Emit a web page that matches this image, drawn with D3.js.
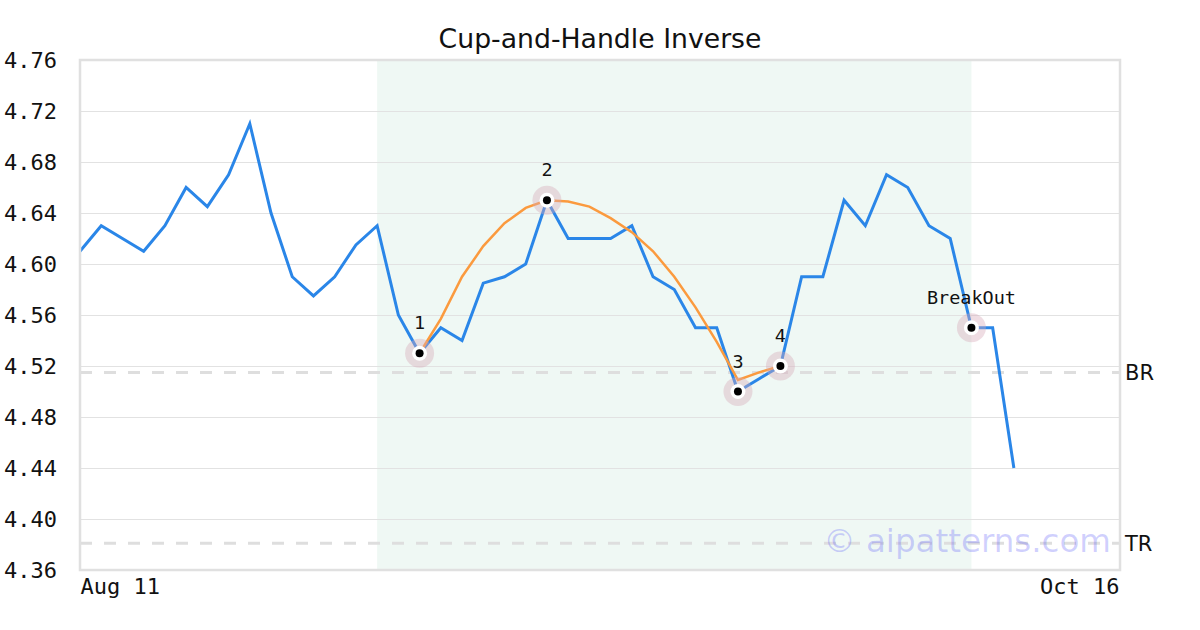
<!DOCTYPE html>
<html>
<head>
<meta charset="utf-8">
<script src="https://cdn.jsdelivr.net/npm/d3@7"></script>
<style>
  html, body { margin: 0; padding: 0; background: #fff; }
  svg { display: block; }
</style>
</head>
<body>
<svg id="chart" width="1200" height="630"></svg>
<script>
// ---- data ----
const title = "Cup-and-Handle Inverse";
const prices = [4.61, 4.63, 4.62, 4.61, 4.63, 4.66, 4.645, 4.67, 4.71, 4.64,
                4.59, 4.575, 4.59, 4.615, 4.63, 4.56, 4.53, 4.55, 4.54, 4.585,
                4.59, 4.60, 4.65, 4.62, 4.62, 4.62, 4.63, 4.59, 4.58, 4.55,
                4.55, 4.50, 4.51, 4.52, 4.59, 4.59, 4.65, 4.63, 4.67, 4.66,
                4.63, 4.62, 4.55, 4.55, 4.44];
const slotCount = 50;               // trading-day slots on the x axis
const cupStartIndex = 16;
const cupCurve = [4.530, 4.557, 4.590, 4.614, 4.632, 4.644, 4.650, 4.649, 4.645,
                  4.636, 4.625, 4.610, 4.590, 4.566, 4.539, 4.509, 4.515, 4.520];
const patternRange = [14, 42];
const markerIndex = [16, 22, 31, 33, 42];
const markerLabels = ["1", "2", "3", "4", "BreakOut"];
const levelValues = [4.515, 4.381];
const levelLabels = ["BR", "TR"];
const yTicks = [4.36, 4.40, 4.44, 4.48, 4.52, 4.56, 4.60, 4.64, 4.68, 4.72, 4.76];
const xTickIndex = [0, 49];
const xTickLabels = ["Aug 11", "Oct 16"];
const watermark = "© aipatterns.com";

// ---- layout ----
const svg = d3.select("#chart");
const L = 80, R = 1120, T = 60, B = 570;
const x = d3.scaleLinear().domain([0, slotCount - 1]).range([L, R]);
const y = d3.scaleLinear().domain([4.36, 4.76]).range([B, T]);
const mono = "'DejaVu Sans Mono', monospace";
const sans = "'DejaVu Sans', sans-serif";

// pattern shading
svg.append("rect")
  .attr("x", x(patternRange[0])).attr("y", T)
  .attr("width", x(patternRange[1]) - x(patternRange[0])).attr("height", B - T)
  .attr("fill", "#eff8f4");

// grid
svg.append("g").selectAll("line").data(yTicks.slice(1, -1)).join("line")
  .attr("x1", L).attr("x2", R)
  .attr("y1", d => Math.round(y(d)) + 0.5).attr("y2", d => Math.round(y(d)) + 0.5)
  .attr("stroke", "#e2e2e2").attr("stroke-width", 1);

// level dashed lines
svg.append("g").selectAll("line").data(levelValues).join("line")
  .attr("x1", L).attr("x2", R)
  .attr("y1", d => y(d)).attr("y2", d => y(d))
  .attr("stroke", "#dedede").attr("stroke-width", 3)
  .attr("stroke-dasharray", "12,12");

// price line
const line = d3.line().x((d, i) => x(i)).y(d => y(d));
svg.append("path").datum(prices)
  .attr("d", line).attr("fill", "none")
  .attr("stroke", "#2a86e8").attr("stroke-width", 3)
  .attr("stroke-linejoin", "miter");

// cup curve
const cupLine = d3.line().x((d, i) => x(cupStartIndex + i)).y(d => y(d));
svg.append("path").datum(cupCurve)
  .attr("d", cupLine).attr("fill", "none")
  .attr("stroke", "#fb9a3e").attr("stroke-width", 2.5);

// markers
const mk = svg.append("g").selectAll("g").data(markerIndex).join("g")
  .attr("transform", d => `translate(${x(d)},${y(prices[d])})`);
mk.append("circle").attr("r", 14.5).attr("fill", "rgb(215,170,185)").attr("fill-opacity", 0.4);
mk.append("circle").attr("r", 7.5).attr("fill", "#fff");
mk.append("circle").attr("r", 4).attr("fill", "#000");
mk.append("text")
  .attr("x", 0).attr("y", -24)
  .attr("text-anchor", "middle")
  .attr("font-family", mono).attr("font-size", 18.5).attr("fill", "#111")
  .text((d, i) => markerLabels[i]);

// frame
svg.append("rect")
  .attr("x", L).attr("y", T).attr("width", R - L).attr("height", B - T)
  .attr("fill", "none").attr("stroke", "#e0e0e0").attr("stroke-width", 2.5);

// y axis
const yAxis = svg.append("g").attr("transform", `translate(${L},0)`)
  .call(d3.axisLeft(y).tickValues(yTicks).tickFormat(d3.format(".2f")).tickSize(0).tickPadding(23));
yAxis.select(".domain").remove();
yAxis.selectAll("text").attr("font-family", mono).attr("font-size", 22).attr("fill", "#111");

// x axis
const xAxis = svg.append("g").attr("transform", `translate(0,${B})`)
  .call(d3.axisBottom(x).tickValues(xTickIndex).tickFormat((d, i) => xTickLabels[i]).tickSize(0).tickPadding(8));
xAxis.select(".domain").remove();
xAxis.selectAll("text")
  .attr("font-family", mono).attr("font-size", 22).attr("fill", "#111")
  .attr("text-anchor", (d, i) => i === 0 ? "start" : "end")
  .attr("dx", (d, i) => i === 0 ? 0 : -1);

// level labels
svg.append("g").selectAll("text").data(levelValues).join("text")
  .attr("x", R + 5).attr("y", d => y(d))
  .attr("dy", "0.36em")
  .attr("font-family", sans).attr("font-size", 21).attr("fill", "#111")
  .text((d, i) => levelLabels[i]);

// watermark
svg.append("text")
  .attr("x", 1111).attr("y", 552)
  .attr("text-anchor", "end")
  .attr("font-family", sans).attr("font-size", 32.5)
  .attr("fill", "rgb(90,90,250)").attr("fill-opacity", 0.28)
  .text(watermark);

// title
svg.append("text")
  .attr("x", 600).attr("y", 48)
  .attr("text-anchor", "middle")
  .attr("font-family", sans).attr("font-size", 26.7).attr("fill", "#111")
  .text(title);
</script>
</body>
</html>
